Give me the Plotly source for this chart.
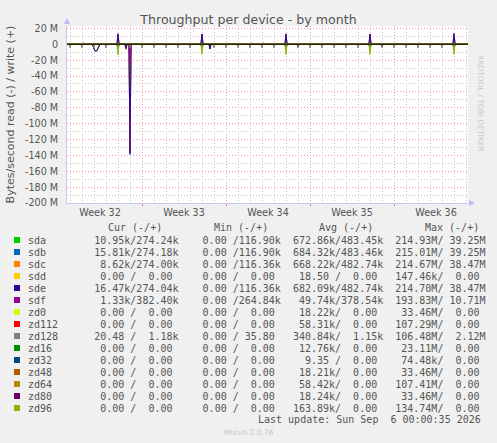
"""Munin diskstats throughput graph - by month"""

import pandas as pd
import plotly.graph_objects as go

# ---- data -------------------------------------------------------------
devices = ["sda", "sdb", "sdc", "sdd", "sde", "sdf", "zd0", "zd112",
           "zd128", "zd16", "zd32", "zd48", "zd64", "zd80", "zd96"]
colors = ["#00CC00", "#0066B3", "#FF8000", "#FFCC00", "#330099", "#990099",
          "#CCFF00", "#FF0000", "#808080", "#008F00", "#00487D", "#B35A00",
          "#B38F00", "#6B006B", "#8FB300"]

# legend statistics (bytes/second), read / write
cur_read = [10.95e3, 15.81e3, 8.62e3, 0, 16.47e3, 1.33e3, 0, 0, 20.48, 0, 0, 0, 0, 0, 0]
cur_write = [274.24e3, 274.18e3, 274.00e3, 0, 274.04e3, 382.40e3, 0, 0, 1.18e3, 0, 0, 0, 0, 0, 0]
min_read = [0] * 15
min_write = [116.90e3, 116.90e3, 116.36e3, 0, 116.36e3, 264.84e3, 0, 0, 35.80, 0, 0, 0, 0, 0, 0]
avg_read = [672.86e3, 684.32e3, 668.22e3, 18.50, 682.09e3, 49.74e3, 18.22e3, 58.31e3,
            340.84e3, 12.76e3, 9.35, 18.21e3, 58.42e3, 18.24e3, 163.89e3]
avg_write = [483.45e3, 483.46e3, 482.74e3, 0, 482.74e3, 378.54e3, 0, 0, 1.15e3, 0, 0, 0, 0, 0, 0]
max_read = [214.93e6, 215.01e6, 214.67e6, 147.46e3, 214.70e6, 193.83e6, 33.46e6, 107.29e6,
            106.48e6, 23.11e6, 74.48e3, 33.46e6, 107.41e6, 33.46e6, 134.74e6]
max_write = [39.25e6, 39.25e6, 38.47e6, 0, 38.47e6, 10.71e6, 0, 0, 2.12e6, 0, 0, 0, 0, 0, 0]

# sample times where the physical disks show activity (2h consolidation)
disk_times = [
    "2026-08-05 02:00", "2026-08-05 04:00",
    "2026-08-05 22:00", "2026-08-06 00:00", "2026-08-06 02:00", "2026-08-06 04:00",
    "2026-08-06 06:00", "2026-08-06 08:00", "2026-08-06 10:00",
    "2026-08-08 00:00", "2026-08-08 16:00", "2026-08-09 00:00",
    "2026-08-15 00:00", "2026-08-15 16:00",
    "2026-08-19 02:00", "2026-08-19 04:00", "2026-08-20 02:00", "2026-08-20 04:00",
    "2026-08-22 00:00", "2026-08-23 00:00",
    "2026-08-29 00:00", "2026-08-30 00:00",
    "2026-09-02 02:00", "2026-09-02 04:00",
    "2026-09-05 00:00",
]
# values in MB/s, read shown negative
sda_read = [0, 0, -2.3, -6.2, -8.2, -8.4, -7.8, -4.8, -1.4, -4.0, -5.3, -136.5,
            -4.0, -5.8, 0, 0, 0, 0, -4.0, -3.3, -4.0, -3.3, 0, 0, -4.0]
sdb_read = [0, 0, -2.4, -6.4, -8.3, -8.5, -7.9, -4.9, -1.5, -4.0, -5.4, -139.0,
            -4.0, -5.9, 0, 0, 0, 0, -4.0, -3.4, -4.0, -3.4, 0, 0, -4.0]
sdc_read = [0, 0, -2.3, -6.3, -8.2, -8.4, -7.8, -4.8, -1.4, -4.0, -6.6, -136.0,
            -4.0, -5.8, 0, 0, 0, 0, -4.0, -3.3, -4.0, -3.3, 0, 0, -4.0]
sde_read = [0, 0, -2.5, -6.5, -8.4, -8.6, -8.0, -5.0, -1.5, -4.0, -5.5, -137.5,
            -4.0, -6.0, 0, 0, 0, 0, -4.0, -3.5, -4.0, -3.5, 0, 0, -4.0]
sdf_read = [0, 0, 0, 0, 0, 0, 0, 0, 0, 0, 0, -25.0,
            0, 0, 0, 0, 0, 0, 0, 0, 0, 0, 0, 0, 0]
sda_write = [1.0, 1.0, 0, 0, 0, 0, 0, 0, 0, 12.9, 0, 0,
             12.8, 0, 1.0, 1.0, 1.0, 1.0, 12.9, 0, 12.8, 0, 1.0, 1.0, 13.1]
sdb_write = [1.0, 1.0, 0, 0, 0, 0, 0, 0, 0, 12.9, 0, 0,
             12.8, 0, 1.0, 1.0, 1.0, 1.0, 12.9, 0, 12.8, 0, 1.0, 1.0, 13.1]
sdc_write = [1.0, 1.0, 0, 0, 0, 0, 0, 0, 0, 12.8, 0, 0,
             12.7, 0, 1.0, 1.0, 1.0, 1.0, 12.8, 0, 12.7, 0, 1.0, 1.0, 13.0]
sde_write = [1.3, 1.2, 0, 0, 0, 0, 0, 0, 0, 13.2, 0, 0,
             13.0, 0, 1.2, 1.3, 1.2, 1.3, 13.1, 0, 13.0, 0, 1.2, 1.3, 13.4]

# zd128 small nightly reads (MB/s)
zd128_times = ["2026-08-04", "2026-08-05", "2026-08-06", "2026-08-07", "2026-08-08",
               "2026-08-09", "2026-08-10", "2026-08-11", "2026-08-12", "2026-08-13",
               "2026-08-14", "2026-08-15", "2026-08-16", "2026-08-17", "2026-08-18",
               "2026-08-19", "2026-08-20", "2026-08-21", "2026-08-22", "2026-08-23",
               "2026-08-24", "2026-08-25", "2026-08-26", "2026-08-27", "2026-08-28",
               "2026-08-29", "2026-08-30", "2026-08-31", "2026-09-01", "2026-09-02",
               "2026-09-03", "2026-09-04", "2026-09-05"]
zd128_read = [-4.5, -4.3, -4.6, -4.5, -4.4, -4.5, -4.6, -4.4, -4.5, -4.5,
              -4.6, -4.4, -4.5, -4.5, -4.3, -4.6, -4.5, -4.4, -4.5, -4.5,
              -4.6, -4.5, -4.4, -4.5, -4.6, -4.5, -4.4, -4.5, -4.5, -4.6,
              -4.4, -4.5, -4.5]

# zd96 weekly reads (MB/s)
zd96_times = ["2026-08-08", "2026-08-15", "2026-08-22", "2026-08-29", "2026-09-05"]
zd96_read = [-13.5, -12.5, -13.2, -13.0, -12.8]

x_start, x_end = "2026-08-03 18:00", "2026-09-06 04:00"
week_labels = ["Week 32", "Week 33", "Week 34", "Week 35", "Week 36"]
week_mid = ["2026-08-06 12:00", "2026-08-13 12:00", "2026-08-20 12:00",
            "2026-08-27 12:00", "2026-09-03 12:00"]
week_start = ["2026-08-10", "2026-08-17", "2026-08-24", "2026-08-31"]
y_ticks = [20, 0, -20, -40, -60, -80, -100, -120, -140, -160, -180, -200]

# ---- helpers ----------------------------------------------------------
samples = pd.date_range(x_start, x_end, freq="2h")

# pixel geometry of the rrdtool canvas
PL, PR, PT, PB = 67, 468, 26, 203
W, H = 497, 443
TEXT = "#555555"


def series(times, values):
    s = pd.Series(0.0, index=samples)
    for t, v in zip(times, values):
        s[pd.Timestamp(t)] = v * 1e6
    return s


def fx(px):
    return (px - PL) / (PR - PL)


def fy(py):
    return (PB - py) / (PB - PT)


def si(v):
    if v >= 1e6:
        return f"{v / 1e6:6.2f}M"
    if v >= 1e3:
        return f"{v / 1e3:6.2f}k"
    return f"{v:6.2f} "


read_data = {
    "sda": (disk_times, sda_read), "sdb": (disk_times, sdb_read),
    "sdc": (disk_times, sdc_read), "sde": (disk_times, sde_read),
    "sdf": (disk_times, sdf_read), "zd128": (zd128_times, zd128_read),
    "zd96": (zd96_times, zd96_read),
}
write_data = {
    "sda": (disk_times, sda_write), "sdb": (disk_times, sdb_write),
    "sdc": (disk_times, sdc_write), "sde": (disk_times, sde_write),
}

# ---- figure -----------------------------------------------------------
fig = go.Figure()

# empty trace so the week-label axis (x2) gets drawn
fig.add_trace(go.Scatter(x=[], y=[], xaxis="x2", yaxis="y", showlegend=False,
                         hoverinfo="skip"))

for dev, col in zip(devices, colors):
    for data in (read_data, write_data):
        times, vals = data.get(dev, ([], []))
        s = series(times, vals)
        fig.add_trace(go.Scatter(
            x=s.index, y=s.values, mode="lines",
            line=dict(color=col, width=1), showlegend=False,
            hoverinfo="skip",
        ))

# black zero line on top of the series, like rrdtool
fig.add_hline(y=0, line=dict(color="#000000", width=1), layer="above")

grid_gray = "#c8c8c8"
grid_red = "#eea0a0"
DOTS = "1px,2px"

fig.update_layout(
    width=W, height=H,
    margin=dict(l=PL, r=W - PR, t=PT, b=H - PB),
    paper_bgcolor="#f0f0f0",
    plot_bgcolor="#ffffff",
    font=dict(family="DejaVu Sans", size=9.6, color=TEXT),
    showlegend=False,
    title=dict(text="Throughput per device - by month", x=0.5, xanchor="center",
               y=1 - 19.5 / H, yanchor="middle",
               font=dict(family="DejaVu Sans", size=12.6, color=TEXT)),
    # days (minor, gray) and week starts (major, red)
    xaxis=dict(
        type="date", range=[x_start, x_end], automargin=False,
        tickmode="array", tickvals=week_start, showticklabels=False,
        showgrid=True, gridcolor=grid_red, griddash=DOTS, gridwidth=1,
        ticks="outside", ticklen=2, tickcolor="#f08080",
        showline=True, linecolor="#c8c8ee", linewidth=1,
        zeroline=False,
        minor=dict(dtick=86400000, tick0="2026-08-04", showgrid=True,
                   gridcolor=grid_gray, griddash=DOTS, gridwidth=1),
    ),
    # week labels centred on each week
    xaxis2=dict(
        type="date", range=[x_start, x_end], overlaying="x", anchor="y",
        automargin=False, side="bottom",
        tickmode="array", tickvals=week_mid, ticktext=week_labels,
        showgrid=False, ticks="", ticklabelstandoff=2, zeroline=False,
        showline=False,
    ),
    yaxis=dict(
        range=[-200e6, 23e6], automargin=False,
        tickmode="array", tickvals=[v * 1e6 for v in y_ticks],
        ticktext=[f"{v} M" if v else "0" for v in y_ticks],
        showgrid=True, gridcolor=grid_red, griddash=DOTS, gridwidth=1,
        ticks="", ticklabelstandoff=6,
        showline=True, linecolor="#c8c8ee", linewidth=1,
        zeroline=False,
        minor=dict(dtick=10e6, showgrid=True, gridcolor=grid_gray,
                   griddash=DOTS, gridwidth=1),
        title=dict(text="Bytes/second read (-) / write (+)", standoff=8,
                   font=dict(family="DejaVu Sans", size=11, color=TEXT)),
    ),
)

# axis arrows
fig.add_shape(type="path", xref="paper", yref="paper",
              path=f"M {fx(64)} {fy(24)} L {fx(70)} {fy(24)} L {fx(67)} {fy(18)} Z",
              fillcolor="#b8bcf4", line=dict(width=0))
fig.add_shape(type="path", xref="paper", yref="paper",
              path=f"M {fx(469)} {fy(200)} L {fx(469)} {fy(206)} L {fx(475)} {fy(203)} Z",
              fillcolor="#b8bcf4", line=dict(width=0))

# rrdtool watermark
fig.add_annotation(text="RRDTOOL / TOBI OETIKER", xref="paper", yref="paper",
                   x=fx(487), y=fy(53), textangle=90, showarrow=False,
                   font=dict(family="DejaVu Sans", size=7.5, color="#c8c8c8"))

# ---- legend table -----------------------------------------------------
MONO = "DejaVu Sans Mono"
for label, px in [("Cur (-/+)", 106), ("Min (-/+)", 212), ("Avg (-/+)", 317), ("Max (-/+)", 422.5)]:
    fig.add_annotation(text=label.replace(" ", "\u00a0"), xref="paper", yref="paper",
                       x=fx(px), y=fy(227.5), xanchor="left", yanchor="middle",
                       showarrow=False, font=dict(family=MONO, size=10, color=TEXT))

for i, (dev, col) in enumerate(zip(devices, colors)):
    row_y = 240 + 12 * i
    fig.add_shape(type="rect", xref="paper", yref="paper",
                  x0=fx(14), x1=fx(20), y0=fy(row_y - 3), y1=fy(row_y + 3),
                  fillcolor=col, line=dict(width=0))
    row = (f"{dev:<10}"
           f"{si(cur_read[i])}/{si(cur_write[i])}  "
           f"{si(min_read[i])}/{si(min_write[i])}  "
           f"{si(avg_read[i])}/{si(avg_write[i])}  "
           f"{si(max_read[i])}/{si(max_write[i])}")
    fig.add_annotation(text=row.replace(" ", "\u00a0"), xref="paper", yref="paper",
                       x=fx(25.8), y=fy(row_y), xanchor="left", yanchor="middle",
                       showarrow=False, font=dict(family=MONO, size=10, color=TEXT))

fig.add_annotation(text="Last update: Sun Sep  6 00:00:35 2026".replace(" ", "\u00a0"),
                   xref="paper", yref="paper", x=fx(483), y=fy(420),
                   xanchor="right", yanchor="middle", showarrow=False,
                   font=dict(family=MONO, size=10, color=TEXT))
fig.add_annotation(text="Munin 2.0.76", xref="paper", yref="paper",
                   x=fx(248.5), y=fy(432), xanchor="center", yanchor="middle",
                   showarrow=False,
                   font=dict(family="DejaVu Sans", size=7.6, color="#c8c8c8"))

# the page is photographed at exactly the figure size: drop the body margin
fig.write_html("out.html", config={"displayModeBar": False},
               post_script="document.body.style.margin='0';")
